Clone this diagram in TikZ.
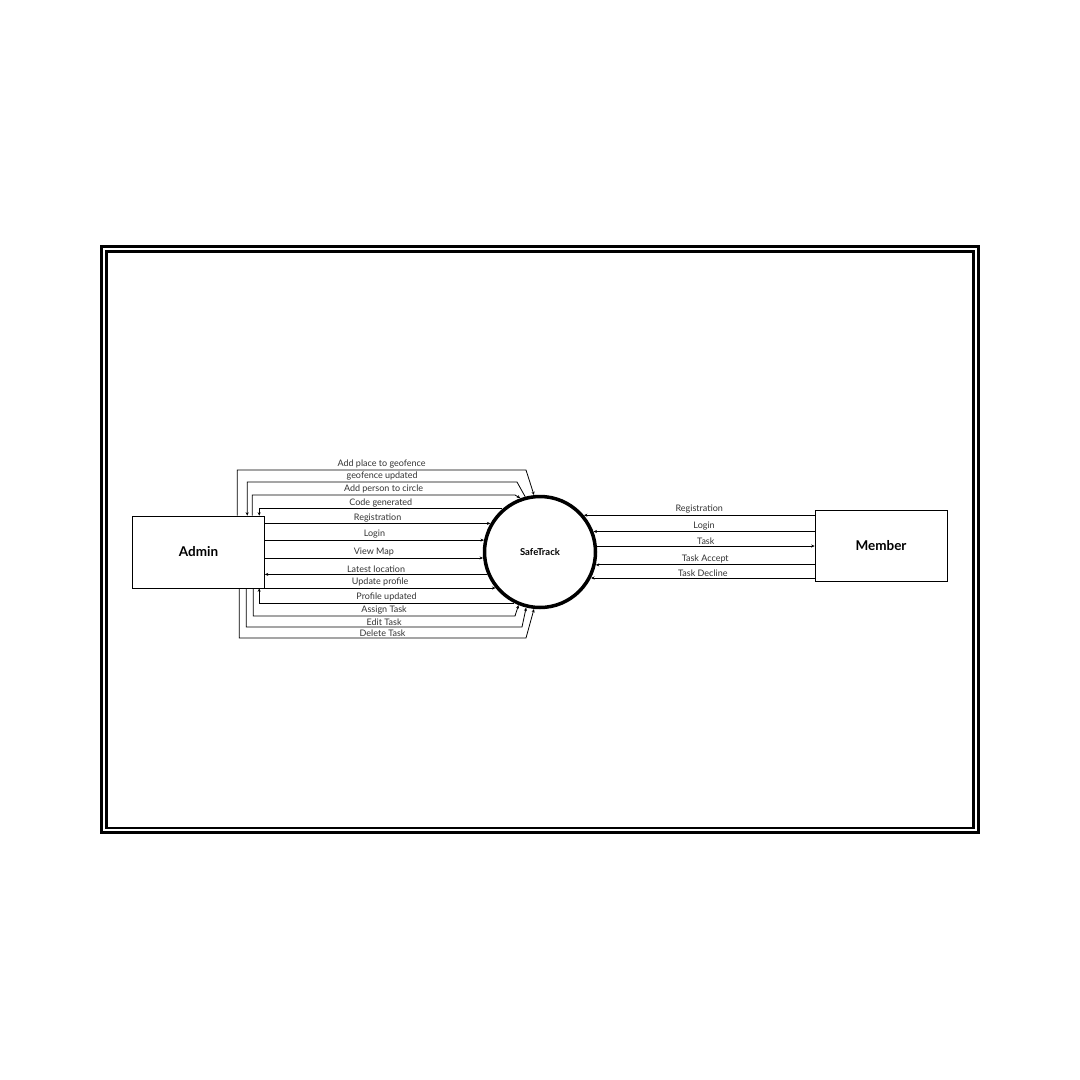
\documentclass[tikz,border=0pt]{standalone}
\usepackage{fontspec}
\setmainfont{Lato}
\usetikzlibrary{arrows.meta,positioning,calc}
\tikzset{
  flow/.style={-{Stealth[length=3.5pt,width=3pt]}, line width=0.8pt},
  lbl/.style={above, inner sep=1.2pt, font=\fontsize{9}{10}\selectfont, text=black!80},
  entity/.style={draw, line width=0.6pt, minimum width=132pt, minimum height=72pt,
    font=\bfseries\fontsize{13.5}{15}\selectfont},
  process/.style={draw, circle, line width=3.5pt, minimum size=111pt, inner sep=0pt,
    font=\bfseries\fontsize{9.5}{11}\selectfont}
}

\begin{document}
\begin{tikzpicture}[x=1pt, y=-1pt]
\useasboundingbox (0,0) rectangle (1080,1080);

% frame
\draw[line width=2.6pt] (101.5,246.5) rectangle (978.5,832.5);
\draw[line width=2.6pt] (106.5,251.5) rectangle (973.5,828);

\node[entity] (admin) at (198.5,552) {Admin};
\node[entity, minimum height=71pt] (member) at (881,545.5) {Member};
\node[process] (st) at (540,552) {SafeTrack};

% admin side, over the top
\draw[flow] ([xshift=105pt]admin.north west) |- node[lbl,pos=0.75] (l1) {Add place to geofence} (526,470) -- (st.96);
\draw[flow] (st.105) -- (517,482) -| node[lbl,pos=0.25] (l2) {geofence updated} ([xshift=115pt]admin.north west);
\draw[flow] ([xshift=120pt]admin.north west) |- node[lbl,pos=0.75] (l3) {Add person to circle} (515,495) -- (st.110);
\draw[flow] (st.131) -| node[lbl,pos=0.25] (l4) {Code generated} ([xshift=127pt]admin.north west);

% admin side, straight
\draw[flow] (admin.east |- st.150) -- node[lbl] (l5) {Registration} (st.150);
\draw[flow] (admin.east |- st.168) -- node[lbl] (l6) {Login} (st.168);
\draw[flow] (admin.east |- st.186) -- node[lbl] (l7) {View Map} (st.186);
\draw[flow] (st.203) -- node[lbl] (l8) {Latest location} (admin.east |- st.203);
\draw[flow] (admin.east |- st.219) -- node[lbl] (l9) {Update profile} (st.219);

% admin side, under the bottom
\draw[flow] (st.243) -| node[lbl,pos=0.25] (l10) {Profile updated} ([xshift=127pt]admin.south west);
\draw[flow] ([xshift=121pt]admin.south west) |- node[lbl,pos=0.75] (l11) {Assign Task} (515,616) -- (st.248);
\draw[flow] ([xshift=114pt]admin.south west) |- node[lbl,pos=0.75] (l12) {Edit Task} (522,627) -- (st.256);
\draw[flow] ([xshift=107pt]admin.south west) |- node[lbl,pos=0.75] (l13) {Delete Task} (526,638) -- (st.264);

% member side
\draw[flow] (member.west |- st.40) -- node[lbl] (m1) {Registration} (st.40);
\draw[flow] (member.west |- st.21) -- node[lbl] (m2) {Login} (st.21);
\draw[flow] (st.6) -- node[lbl] (m3) {Task} (member.west |- st.6);
\draw[flow] (member.west |- st.-13) -- node[lbl] (m4) {Task Accept} (st.-13);
\draw[flow] (member.west |- st.-27) -- node[lbl] (m5) {Task Decline} (st.-27);

\end{tikzpicture}
\end{document}
